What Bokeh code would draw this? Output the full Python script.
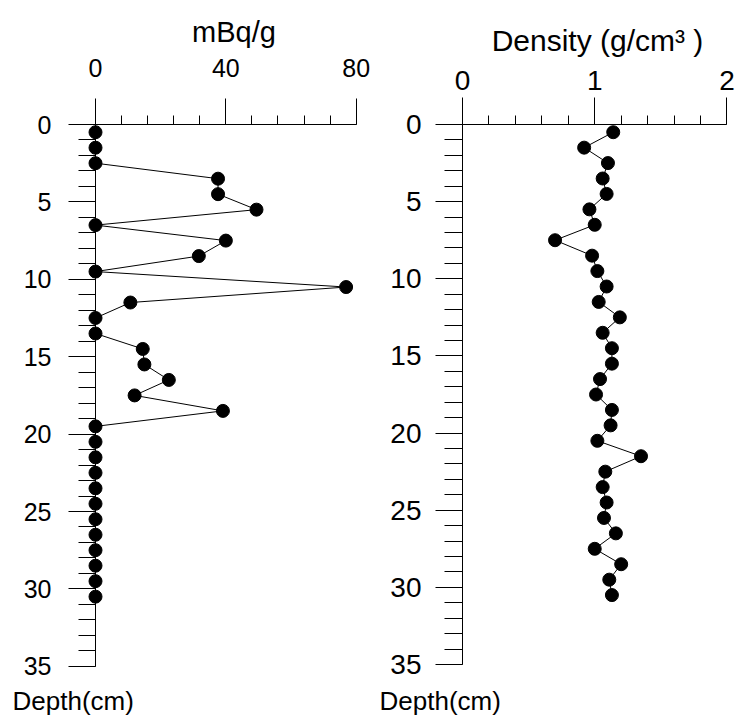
from bokeh.plotting import figure
from bokeh.models import Range1d, LinearAxis, FixedTicker, Title
from bokeh.layouts import row
from bokeh.embed import file_html
from bokeh.resources import INLINE

# ---- data ----
depth = [0.5, 1.5, 2.5, 3.5, 4.5, 5.5, 6.5, 7.5, 8.5, 9.5, 10.5, 11.5, 12.5, 13.5, 14.5,
         15.5, 16.5, 17.5, 18.5, 19.5, 20.5, 21.5, 22.5, 23.5, 24.5, 25.5, 26.5, 27.5,
         28.5, 29.5, 30.5]
activity = [0, 0, 0, 37.6, 37.6, 49.4, 0, 40.0, 31.7, 0, 76.9, 10.7, 0, 0, 14.5,
            15.0, 22.5, 12.0, 39.1, 0, 0, 0, 0, 0, 0, 0, 0, 0,
            0, 0, 0]
density = [1.14, 0.92, 1.10, 1.06, 1.09, 0.96, 1.00, 0.70, 0.98, 1.02, 1.09, 1.03, 1.19, 1.06, 1.13,
           1.13, 1.04, 1.01, 1.13, 1.12, 1.02, 1.35, 1.08, 1.06, 1.09, 1.07, 1.16, 1.00,
           1.20, 1.11, 1.13]

act_ticks = [0, 40, 80]
act_minor = [0, 8, 16, 24, 32, 40, 48, 56, 64, 72, 80]
den_ticks = [0, 1, 2]
den_minor = [0, 0.2, 0.4, 0.6, 0.8, 1.0, 1.2, 1.4, 1.6, 1.8, 2.0]
depth_ticks = [0, 5, 10, 15, 20, 25, 30, 35]
depth_minor = list(range(0, 36))

FONT = "Liberation Sans"


def make_axis(ticks, minor, bounds, tick_out, minor_out, standoff, fsize,
              label=None, label_size="27px", label_standoff=10):
    ax = LinearAxis(
        ticker=FixedTicker(ticks=ticks, minor_ticks=minor),
        bounds=bounds,
        major_tick_out=tick_out, major_tick_in=0,
        minor_tick_out=minor_out, minor_tick_in=0,
        major_label_standoff=standoff,
        major_label_text_font=FONT, major_label_text_font_size=fsize,
        major_label_text_color="black",
        axis_line_color="black", axis_line_width=1,
        major_tick_line_color="black", minor_tick_line_color="black",
    )
    if label is not None:
        ax.axis_label = label
        ax.axis_label_text_font = FONT
        ax.axis_label_text_font_size = label_size
        ax.axis_label_text_font_style = "normal"
        ax.axis_label_text_color = "black"
        ax.axis_label_standoff = label_standoff
    return ax


def depth_title(offset):
    return Title(text="Depth(cm)", align="left", offset=offset, standoff=0,
                 text_font=FONT, text_font_size="26px", text_font_style="normal",
                 text_color="black", vertical_align="bottom")


# ---- left panel ----
p1 = figure(width=380, height=716,
            x_range=Range1d(0, 85.0), y_range=Range1d(36.11, 0),
            x_axis_type=None, y_axis_type=None,
            output_backend="svg", toolbar_location=None,
            min_border_left=95, min_border_right=8, min_border_top=124, min_border_bottom=33,
            outline_line_color=None, background_fill_color="white")
p1.add_layout(make_axis(act_ticks, act_minor, (0, 80), 26, 9, 22, "25px",
                        label="mBq/g", label_size="29px", label_standoff=8), "above")
p1.add_layout(make_axis(depth_ticks, depth_minor, (0, 35), 27, 17, 17, "25px"), "left")
p1.add_layout(depth_title(-83), "below")
p1.line(activity, depth, line_color="black", line_width=1, level="overlay")
p1.scatter(activity, depth, size=13, fill_color="black", line_color="black", level="overlay")

# ---- right panel ----
p2 = figure(width=360, height=716,
            x_range=Range1d(0, 2.042), y_range=Range1d(36.23, 0),
            x_axis_type=None, y_axis_type=None,
            output_backend="svg", toolbar_location=None,
            min_border_left=82, min_border_right=8, min_border_top=120, min_border_bottom=29,
            outline_line_color=None, background_fill_color="white")
p2.add_layout(make_axis(den_ticks, den_minor, (0, 2), 27, 9, 8, "28px",
                        label="Density (g/cm\u00b3 )", label_size="30px", label_standoff=11), "above")
p2.add_layout(make_axis(depth_ticks, depth_minor, (0, 35), 27, 18, 14, "28px"), "left")
p2.add_layout(depth_title(-83), "below")
p2.line(density, depth, line_color="black", line_width=1, level="overlay")
p2.scatter(density, depth, size=13, fill_color="black", line_color="black", level="overlay")

layout = row(p1, p2, spacing=0)
open("out.html", "w").write(file_html(layout, INLINE))
